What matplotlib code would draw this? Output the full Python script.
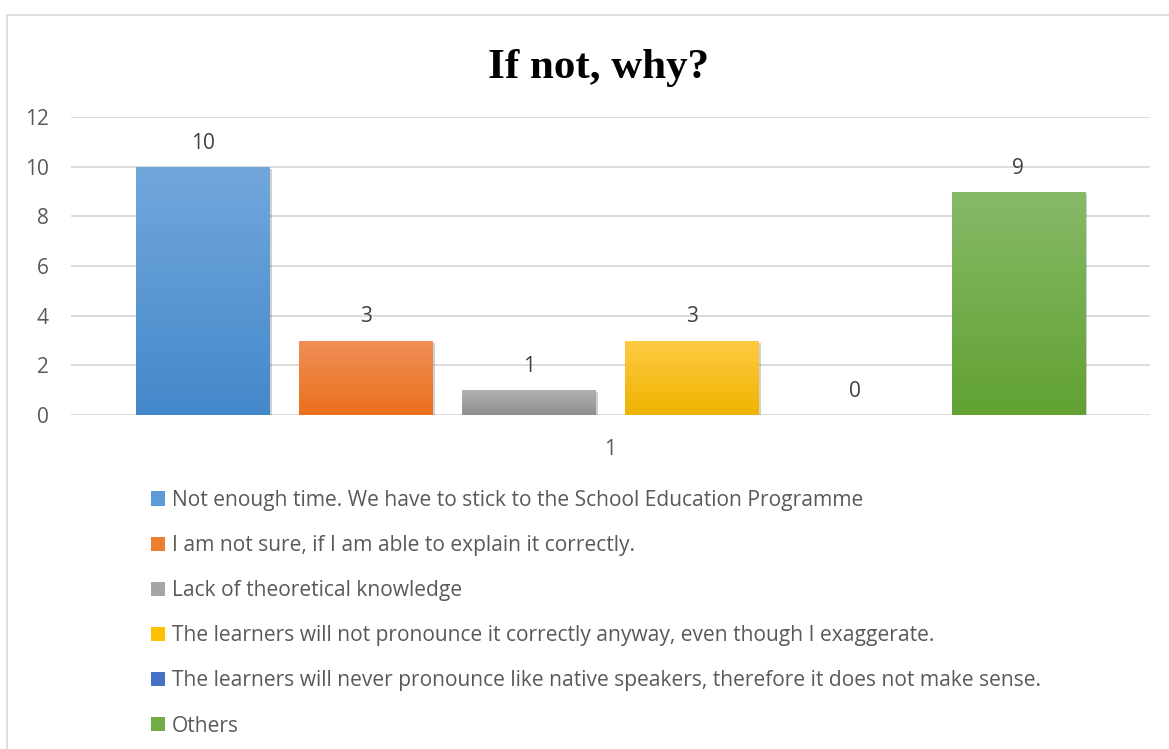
import matplotlib
matplotlib.use("Agg")
import matplotlib.pyplot as plt
import numpy as np
from matplotlib.colors import LinearSegmentedColormap
from matplotlib.patches import Patch, Rectangle
import matplotlib.patheffects as pe
import matplotlib.transforms as mtransforms

# ---- data ----
title = "If not, why?"
category = "1"
series_labels = [
    "Not enough time. We have to stick to the School Education Programme",
    "I am not sure, if I am able to explain it correctly.",
    "Lack of theoretical knowledge",
    "The learners will not pronounce it correctly anyway, even though I exaggerate.",
    "The learners will never pronounce like native speakers, therefore it does not make sense.",
    "Others",
]
values = [10, 3, 1, 3, 0, 9]
top_colors = ["#72A7DC", "#F18F57", "#B2B2B2", "#FFCA42", "#5B86CF", "#86BA68"]
bottom_colors = ["#4388CA", "#E9701C", "#8E8E8E", "#EFB300", "#3A66B8", "#61A132"]
legend_colors = ["#5A9BD8", "#ED7D31", "#A5A5A5", "#FFC000", "#4472C4", "#70AD47"]
yticks = [0, 2, 4, 6, 8, 10, 12]

W, H = 1169, 749
fig = plt.figure(figsize=(W / 100, H / 100), dpi=100)
fig.patch.set_facecolor("white")

# outer chart border
fig.add_artist(Rectangle((7 / W, 1 - 760 / H), (1180 - 7) / W, (760 - 15) / H,
                         transform=fig.transFigure, fill=False,
                         edgecolor="#D9D9D9", linewidth=1.2))

ax = fig.add_axes([71 / W, (H - 415) / H, (1150 - 71) / W, (415 - 117) / H])
ax.set_facecolor("none")

n = len(values)
pitch = 0.1511
bw = 0.1233
xs = [(i - (n - 1) / 2) * pitch for i in range(n)]

label_off = mtransforms.ScaledTranslation(0, 13 / 100, fig.dpi_scale_trans)
grad = np.linspace(0, 1, 256).reshape(-1, 1)
for x, v, ct, cb in zip(xs, values, top_colors, bottom_colors):
    bars = ax.bar(x, v, width=bw, color=cb, zorder=3, linewidth=0)
    rect = bars[0]
    if v > 0:
        rect.set_path_effects([pe.SimplePatchShadow(offset=(1.5, -1.5), shadow_rgbFace="#000000", alpha=0.18),
                               pe.Normal()])
        cmap = LinearSegmentedColormap.from_list("g", [cb, ct])
        im = ax.imshow(grad, extent=[rect.get_x(), rect.get_x() + rect.get_width(), 0, rect.get_height()],
                       origin="lower", aspect="auto", cmap=cmap, zorder=4)
        im.set_clip_path(rect)
    ax.text(x, v, str(v), ha="center", va="bottom", fontsize=15,
            color="#404040", family="Open Sans", zorder=5,
            transform=ax.transData + label_off)

ax.set_xlim(-0.5, 0.5)
ax.set_ylim(0, 12)
ax.set_yticks(yticks)
ax.set_xticks([0])
ax.set_xticklabels([category])
ax.yaxis.grid(True, color="#D9D9D9", linewidth=1.3, zorder=0)
ax.set_axisbelow(True)
for s in ax.spines.values():
    s.set_visible(False)
ax.tick_params(axis="both", length=0, labelsize=15, labelcolor="#595959")
ax.tick_params(axis="y", pad=16)
ax.tick_params(axis="x", pad=17)
for lab in ax.get_xticklabels() + ax.get_yticklabels():
    lab.set_family("Open Sans")

fig.text(598 / W, 1 - 68 / H, title, ha="center", va="center",
         fontsize=31, fontweight="bold", family="Liberation Serif", color="black")

handles = [Patch(facecolor=c, edgecolor="none") for c in legend_colors]
leg = fig.legend(handles, series_labels, loc="upper left",
                 bbox_to_anchor=(151 / W, 1 - 490 / H), frameon=False,
                 prop={"family": "Open Sans", "size": 15.1}, labelcolor="#595959",
                 handlelength=0.68, handleheight=0.68, handletextpad=0.3,
                 labelspacing=1.15, borderpad=0, borderaxespad=0)

fig.savefig("out.png", dpi=100)
